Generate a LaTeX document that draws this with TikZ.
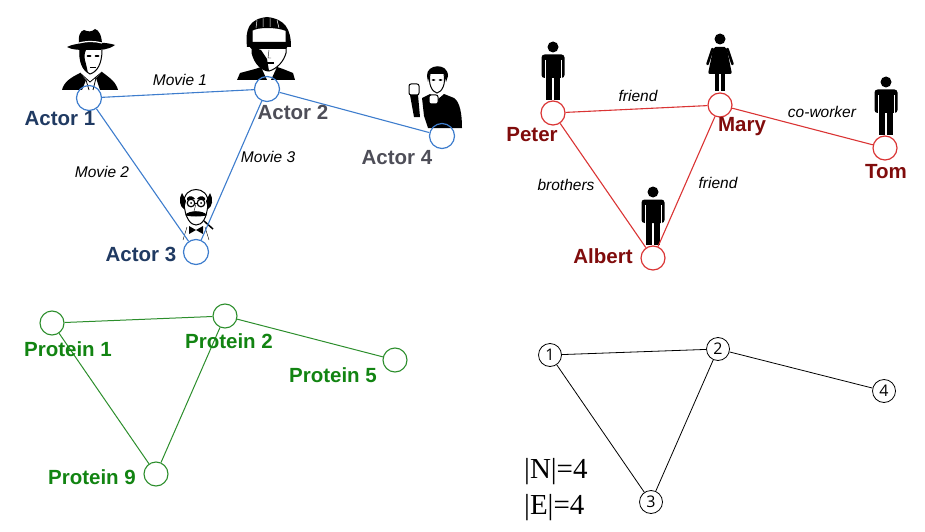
\documentclass[tikz,border=0pt]{standalone}
\usepackage{fontspec}
\setmainfont{Liberation Sans}
\newfontfamily\numfont{Open Sans}
\newfontfamily\countfont{Liberation Serif}
\definecolor{actorblue}{RGB}{62,125,205}
\definecolor{actornavy}{RGB}{32,58,98}
\definecolor{actorgrey}{RGB}{78,78,88}
\definecolor{socialred}{RGB}{218,52,52}
\definecolor{socialdark}{RGB}{128,12,12}
\definecolor{proteingreen}{RGB}{44,142,44}
\definecolor{proteinlab}{RGB}{18,132,18}
\tikzset{
	manicon/.pic={
		\fill (0,0) circle (5.5);
		\fill[rounded corners=3] (-11.5,31) -- (-11.5,7.5) -- (11.5,7.5) -- (11.5,31) -- cycle;
		\fill (-7.3,28) rectangle (-0.7,53);
		\fill (0.7,28) rectangle (7.3,53);
		\draw[white,line width=0.9] (-8,13) -- (-8,32) (8,13) -- (8,32);
	},
	womanicon/.pic={
		\fill (0,0) circle (5.5);
		\fill[rounded corners=2] (-6.5,8) -- (6.5,8) -- (12,35) -- (-12,35) -- cycle;
		\draw[line width=2.6,line cap=round] (-7.5,10) -- (-12.5,25) (7.5,10) -- (12.5,25);
		\fill (-5,34) rectangle (-1,52);
		\fill (1,34) rectangle (5,52);
	}
}

\begin{document}
\begin{tikzpicture}[x=1pt,y=-1pt,
	actor/.style={draw=actorblue,circle,line width=1.2pt,minimum size=25pt,inner sep=0pt},
	social/.style={draw=socialred,circle,line width=1.2pt,minimum size=24pt,inner sep=0pt},
	protein/.style={draw=proteingreen,circle,line width=1.1pt,minimum size=24pt,inner sep=0pt},
	plain/.style={draw,circle,line width=0.8pt,minimum size=23pt,inner sep=0pt,font=\numfont\fontsize{16}{16}\selectfont},
	biglab/.style={font=\fontsize{20.5}{21}\selectfont\bfseries,inner sep=0pt},
	edgelab/.style={font=\fontsize{15.5}{16}\selectfont\itshape,inner sep=0pt}]
	\useasboundingbox (0,0) rectangle (925,532);
	%
	% actors
	\begin{scope}[shift={(62,28)}]
		\fill (17,17) .. controls (16,8) and (18,3) .. (22,2) .. controls (26,4) and (30,4) .. (33,1) .. controls (37,2) and (40,8) .. (40,17) -- cycle;
		\fill (5,19) .. controls (14,14) and (42,13) .. (53,17) .. controls (46,22) and (40,22) .. (28,22) .. controls (18,22) and (10,22) .. (5,19) -- cycle;
		\draw[white,line width=1.2] (17,15) .. controls (25,13) and (33,13) .. (40,15);
		\draw[line width=1] (18,22) .. controls (17,32) and (20,42) .. (28,46) .. controls (35,44) and (40,36) .. (40,22);
		\fill (18,22) .. controls (17,32) and (20,42) .. (26,45) -- (24,36) .. controls (22,30) and (22,26) .. (24,22) -- cycle;
		\fill (27,28) ellipse (2.5 and 1) (35,28) ellipse (2.5 and 1);
		\draw (28,39) -- (34,39);
		\fill (0,62) .. controls (2,54) and (8,50) .. (18,45) -- (24,52) -- (20,62) -- cycle;
		\fill (56,62) .. controls (54,54) and (48,50) .. (40,44) -- (34,50) -- (38,62) -- cycle;
		\draw[line width=0.8] (24,52) -- (27,62) (34,50) -- (31,62) (18,45) -- (28,54) -- (40,44);
	\end{scope}
	\begin{scope}[shift={(237,17)}]
		\fill (10,30) .. controls (8,12) and (12,2) .. (30,0) .. controls (48,2) and (54,12) .. (54,30) -- (49,30) -- (49,14) .. controls (40,10) and (20,10) .. (15,14) -- (15,30) -- cycle;
		\draw[white,line width=0.5] (20,3) -- (19,11) (26,1.5) -- (26,10) (33,1.5) -- (33,10) (40,3) -- (42,11);
		\draw[line width=1] (15,14) -- (15,36) .. controls (18,48) and (26,54) .. (32,54) .. controls (40,52) and (47,44) .. (49,36) -- (49,14);
		\fill (15,30) -- (15,36) .. controls (18,48) and (26,54) .. (32,54) -- (30,42) -- (24,33) -- cycle;
		\fill[rounded corners=1.5] (13,25) rectangle (50,32);
		\draw (32,33) -- (31,41) -- (34,41);
		\draw[line width=1.2] (27,46) -- (37,46);
		\fill (0,63) -- (3,56) -- (18,52) -- (24,50) -- (30,63) -- cycle;
		\fill (58,63) -- (56,56) -- (46,52) -- (40,50) -- (34,63) -- cycle;
		\draw (24,50) -- (24,55) (40,50) -- (40,55);
	\end{scope}
	\begin{scope}[shift={(175,177)}]
		\draw[line width=1] (9,26) .. controls (8,8) and (34,8) .. (33,26);
		\fill (7,16) .. controls (3,22) and (5,30) .. (9,32) -- (11,24) -- cycle;
		\fill (35,16) .. controls (39,22) and (37,30) .. (33,32) -- (31,24) -- cycle;
		\fill (12,21) .. controls (15,18) and (18,19) .. (20,22) -- (12,23) -- cycle;
		\fill (30,21) .. controls (27,18) and (24,19) .. (22,22) -- (30,23) -- cycle;
		\draw[line width=1.2] (16,26) circle (3.8) (26,26) circle (3.8);
		\draw (19.8,26) -- (22.2,26);
		\fill (16,26) circle (1) (26,26) circle (1);
		\draw (21,27) -- (19,34) -- (22,35);
		\fill (10,38) .. controls (14,33) and (28,33) .. (32,38) .. controls (28,40) and (14,40) .. (10,38) -- cycle;
		\draw[line width=1] (9,26) .. controls (10,42) and (16,48) .. (21,48) .. controls (27,48) and (32,42) .. (33,26);
		\fill (21,53) -- (14,49) -- (14,57) -- cycle;
		\fill (21,53) -- (28,49) -- (28,57) -- cycle;
		\draw (8,63) -- (12,50) (34,63) -- (30,50);
		\draw[line width=1.5] (29,44) -- (38,52);
	\end{scope}
	\begin{scope}[shift={(408,62)}]
		\fill (19,14) .. controls (18,2) and (40,0) .. (40,14) -- (38,20) -- (36,12) -- (22,12) -- (20,20) -- cycle;
		\draw[line width=1] (22,12) .. controls (20,22) and (24,30) .. (29,31) .. controls (34,30) and (38,22) .. (36,12);
		\fill (25.5,18) ellipse (2 and 0.8) (32.5,18) ellipse (2 and 0.8);
		\fill (14,36) -- (22,32) -- (29,38) -- (36,32) -- (46,36) .. controls (52,40) and (54,52) .. (54,66) -- (20,66) -- (16,54) -- cycle;
		\fill (2,33) -- (10,33) -- (12,55) -- (6,55) -- cycle;
		\draw[line width=1,fill=white,rounded corners=2] (1,22) rectangle (11,33);
		\draw[line width=1,fill=white,rounded corners=2] (21,33) rectangle (30,42);
	\end{scope}
	%
	\node[actor] (a1) at (89,98) {};
	\node[actor] (a2) at (267,89) {};
	\node[actor] (a3) at (196,252) {};
	\node[actor] (a4) at (442,136) {};
	\node[biglab,actornavy] (la1) at (60,119) {Actor 1};
	\node[biglab,actorgrey] (la2) at (293,112) {Actor 2};
	\node[biglab,actornavy] (la3) at (141,254) {Actor 3};
	\node[biglab,actorgrey] (la4) at (397,158) {Actor 4};
	\draw[actorblue,line width=1.1pt] (a1) -- (a2);
	\draw[actorblue,line width=1.1pt] (a1) -- (a3);
	\draw[actorblue,line width=1.1pt] (a2) -- (a3);
	\draw[actorblue,line width=1.1pt] (a2) -- (a4);
	\node[edgelab] (m1) at (180,80) {Movie 1};
	\node[edgelab] (m2) at (102,172) {Movie 2};
	\node[edgelab] (m3) at (268,157) {Movie 3};
	%
	% people
	\pic at (553,47) {manicon};
	\pic at (720,39) {womanicon};
	\pic at (886,82) {manicon};
	\pic at (653,192) {manicon};
	\node[social] (p) at (553,113) {};
	\node[social] (m) at (720,105) {};
	\node[social] (t) at (885,148) {};
	\node[social] (al) at (653,258) {};
	\node[biglab,socialdark] (lp) at (532,135) {Peter};
	\node[biglab,socialdark] (lm) at (742,127) {Mary};
	\node[biglab,socialdark] (lt) at (886,172) {Tom};
	\node[biglab,socialdark] (lal) at (603,256) {Albert};
	\draw[socialred,line width=1.1pt] (p) -- (m);
	\draw[socialred,line width=1.1pt] (p) -- (al);
	\draw[socialred,line width=1.1pt] (m) -- (al);
	\draw[socialred,line width=1.1pt] (m) -- (t);
	\node[edgelab] (f1) at (638,96) {friend};
	\node[edgelab] (cw) at (822,112) {co-worker};
	\node[edgelab] (br) at (566,185) {brothers};
	\node[edgelab] (f2) at (718,183) {friend};
	%
	% proteins
	\node[protein] (pr1) at (52,323) {};
	\node[protein] (pr2) at (225,316) {};
	\node[protein] (pr5) at (395,360) {};
	\node[protein] (pr9) at (156,474) {};
	\draw[proteingreen,line width=1pt] (pr1) -- (pr2);
	\draw[proteingreen,line width=1pt] (pr1) -- (pr9);
	\draw[proteingreen,line width=1pt] (pr2) -- (pr9);
	\draw[proteingreen,line width=1pt] (pr2) -- (pr5);
	\node[biglab,proteinlab] (lpr1) at (68,349) {Protein 1};
	\node[biglab,proteinlab] (lpr2) at (229,341) {Protein 2};
	\node[biglab,proteinlab] (lpr5) at (333,375) {Protein 5};
	\node[biglab,proteinlab] (lpr9) at (92,477) {Protein 9};
	%
	% abstract graph
	\node[plain] (1) at (550,355) {1};
	\node[plain] (2) at (718,349) {2};
	\node[plain] (3) at (651,502) {3};
	\node[plain] (4) at (884,391) {4};
	\draw[line width=0.8pt] (1) -- (2);
	\draw[line width=0.8pt] (1) -- (3);
	\draw[line width=0.8pt] (2) -- (3);
	\draw[line width=0.8pt] (2) -- (4);
	\node[anchor=west,inner sep=0pt,font=\countfont\fontsize{29}{30}\selectfont] (nn) at (524,472) {|N|=4};
	\node[anchor=west,inner sep=0pt,font=\countfont\fontsize{29}{30}\selectfont] (ne) at (524,508) {|E|=4};
\end{tikzpicture}
\end{document}
